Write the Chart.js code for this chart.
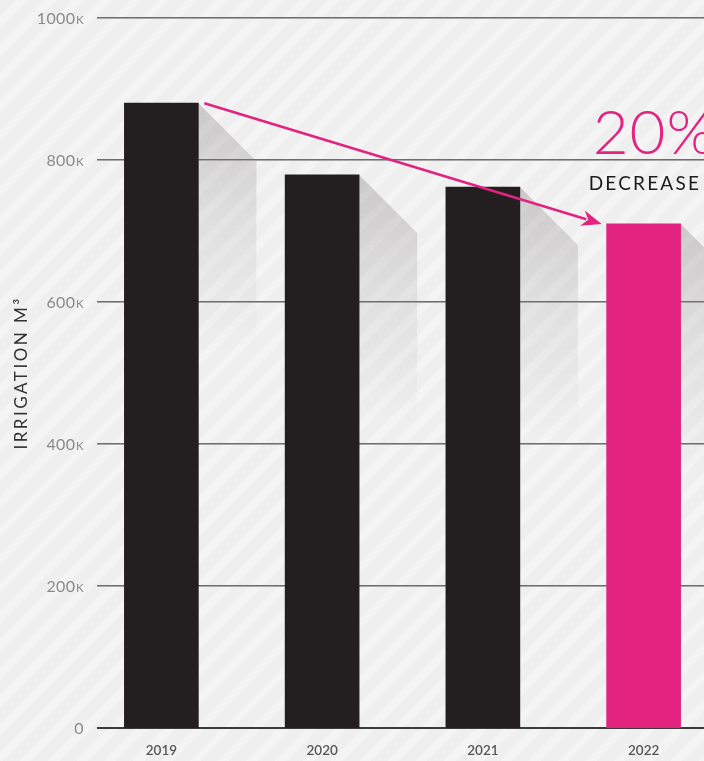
<!DOCTYPE html>
<html><head><meta charset="utf-8">
<script src="https://cdn.jsdelivr.net/npm/chart.js@4/dist/chart.umd.min.js"></script>
<style>
html,body{margin:0;padding:0;overflow:hidden;width:704px;height:761px;
background:#f0f0f0 repeating-linear-gradient(135deg,#efefef 0px,#efefef 12px,#f4f4f4 12px,#f4f4f4 20px);}
#wrap{position:relative;width:724px;height:761px;}
canvas{display:block}
</style></head><body>
<div id="wrap"><canvas id="c" width="724" height="761"></canvas></div>
<script>
const categories = ['2019', '2020', '2021', '2022'];
const irrigation = [880000, 779000, 762000, 710000];
const yTicks = [0, 200000, 400000, 600000, 800000, 1000000];
const yTickLabels = ['0', '200K', '400K', '600K', '800K', '1000K'];
const axisTitle = 'IRRIGATION M³';
const calloutValue = '20%';
const calloutLabel = 'DECREASE';
const barColors = ['#231f20', '#231f20', '#231f20', '#e2237f'];
const PINK = '#e2237f';

const decor = {
  id: 'decor',
  beforeDatasetsDraw(chart) {
    const ctx = chart.ctx, y = chart.scales.y, meta = chart.getDatasetMeta(0);
    const W = chart.width;
    // long shadows
    meta.data.forEach(bar => {
      const r = bar.x + bar.width / 2, t = bar.y, d = 58, L = 250;
      const g = ctx.createLinearGradient(0, t, 0, t + L);
      g.addColorStop(0, 'rgba(70,60,60,0.22)');
      g.addColorStop(0.45, 'rgba(70,60,60,0.09)');
      g.addColorStop(1, 'rgba(70,60,60,0)');
      ctx.save();
      ctx.fillStyle = g;
      ctx.beginPath();
      ctx.moveTo(r, t);
      ctx.lineTo(r + d, t + d);
      ctx.lineTo(r + d, t + L);
      ctx.lineTo(r, t + L);
      ctx.closePath();
      ctx.fill();
      ctx.restore();
    });
    // gridlines
    const x0 = chart.chartArea.left + 16;
    yTicks.forEach(v => {
      const py = Math.round(y.getPixelForValue(v));
      ctx.save();
      if (v === 0) {
        ctx.fillStyle = '#3c3c3c';
        ctx.fillRect(x0, py - 1, W - x0, 2);
      } else {
        ctx.fillStyle = '#6e6e6e';
        ctx.fillRect(x0, py - 1, W - x0, 1);
        ctx.fillStyle = '#a8a8a8';
        ctx.fillRect(x0, py, W - x0, 1);
      }
      ctx.restore();
    });
    // y tick labels (number + small-caps K)
    ctx.save();
    ctx.fillStyle = '#8a8a8a';
    ctx.textBaseline = 'alphabetic';
    ctx.textAlign = 'left';
    const xr = chart.chartArea.left + 3;
    yTicks.forEach((v, i) => {
      const lbl = yTickLabels[i];
      const py = y.getPixelForValue(v) + 6;
      const hasK = lbl.endsWith('K');
      const num = hasK ? lbl.slice(0, -1) : lbl;
      ctx.font = '400 16px Lato';
      ctx.letterSpacing = '0.4px';
      const wn = ctx.measureText(num).width;
      let wk = 0;
      if (hasK) { ctx.font = '400 11.5px Lato'; wk = ctx.measureText('K').width + 0.5; }
      ctx.font = '400 16px Lato';
      ctx.fillText(num, xr - wk - wn, py);
      if (hasK) { ctx.font = '400 11.5px Lato'; ctx.fillText('K', xr - wk + 0.5, py); }
    });
    ctx.restore();
  },
  afterDatasetsDraw(chart) {
    const ctx = chart.ctx, y = chart.scales.y, meta = chart.getDatasetMeta(0);
    const b0 = meta.data[0], b3 = meta.data[3];
    const sx = b0.x + b0.width / 2 + 6, sy = b0.y;
    const ex = b3.x - b3.width / 2 - 5, ey = b3.y;
    const ang = Math.atan2(ey - sy, ex - sx);
    const hl = 20, hw = 8;
    ctx.save();
    ctx.strokeStyle = PINK; ctx.fillStyle = PINK; ctx.lineWidth = 2.5;
    ctx.beginPath();
    ctx.moveTo(sx, sy);
    ctx.lineTo(ex - Math.cos(ang) * (hl - 4), ey - Math.sin(ang) * (hl - 4));
    ctx.stroke();
    ctx.beginPath();
    ctx.moveTo(ex, ey);
    ctx.lineTo(ex - Math.cos(ang) * hl - Math.sin(ang) * hw, ey - Math.sin(ang) * hl + Math.cos(ang) * hw);
    ctx.lineTo(ex - Math.cos(ang) * (hl - 6), ey - Math.sin(ang) * (hl - 6));
    ctx.lineTo(ex - Math.cos(ang) * hl + Math.sin(ang) * hw, ey - Math.sin(ang) * hl - Math.cos(ang) * hw);
    ctx.closePath();
    ctx.fill();
    // callout
    const g800 = y.getPixelForValue(800000);
    ctx.textAlign = 'left';
    ctx.textBaseline = 'alphabetic';
    ctx.fillStyle = PINK;
    ctx.font = '300 62px Lato';
    ctx.letterSpacing = '1px';
    ctx.fillText(calloutValue, b3.x - 51, g800 - 6);
    ctx.fillStyle = '#1e1b1c';
    ctx.font = '400 19px Lato';
    ctx.letterSpacing = '2.2px';
    ctx.fillText(calloutLabel, b3.x - 55, g800 + 30);
    ctx.restore();
  },
  afterDraw(chart) {
    const ctx = chart.ctx, a = chart.chartArea;
    ctx.save();
    ctx.translate(22, (a.top + a.bottom) / 2);
    ctx.rotate(-Math.PI / 2);
    ctx.textAlign = 'center';
    ctx.textBaseline = 'middle';
    ctx.fillStyle = '#333333';
    ctx.font = '400 17px Lato';
    ctx.letterSpacing = '2.5px';
    ctx.fillText(axisTitle, 0, 0);
    ctx.restore();
  }
};

new Chart(document.getElementById('c'), {
  type: 'bar',
  data: {
    labels: categories,
    datasets: [{
      data: irrigation,
      backgroundColor: barColors,
      borderWidth: 0,
      barThickness: 74
    }]
  },
  options: {
    responsive: false,
    animation: false,
    events: [],
    layout: { padding: { top: 18, right: 0, bottom: 0, left: 0 } },
    plugins: { legend: { display: false }, tooltip: { enabled: false }, title: { display: false } },
    scales: {
      x: {
        type: 'category',
        offset: true,
        grid: { display: false, drawTicks: false },
        border: { display: false },
        afterFit(s) { s.height = 33; },
        ticks: {
          color: '#555555',
          padding: 15,
          font: { family: 'Lato', size: 13.5, weight: '600' }
        }
      },
      y: {
        min: 0,
        max: 1000000,
        grid: { display: false, drawTicks: false },
        border: { display: false },
        afterFit(s) { s.width = 81; },
        afterBuildTicks(s) { s.ticks = yTicks.map(v => ({ value: v })); },
        ticks: { display: false }
      }
    }
  },
  plugins: [decor]
});
</script>
</body></html>
